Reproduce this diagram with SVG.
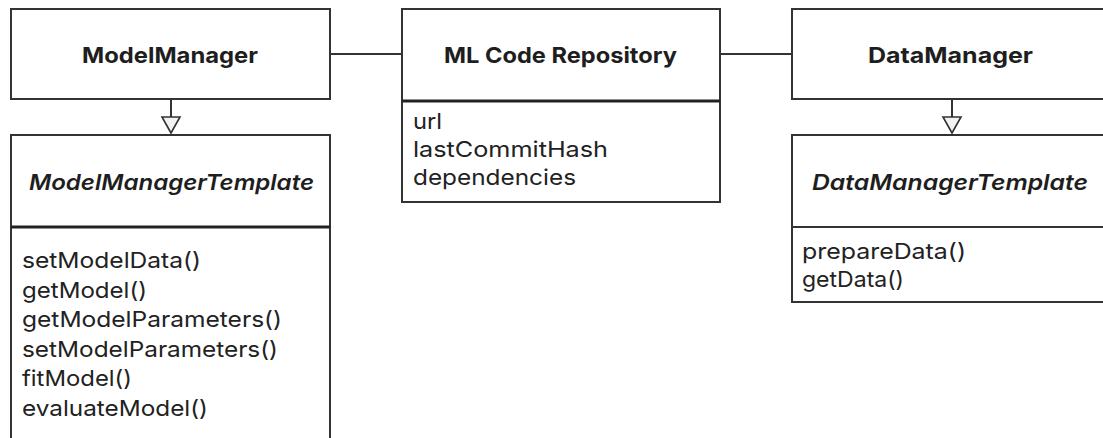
<svg xmlns="http://www.w3.org/2000/svg" width="1103" height="438" viewBox="0 0 1103 438">
<defs>
<style>
.box{fill:#ffffff;stroke:#333333;stroke-width:2}
.sep{stroke:#222222;stroke-width:3}
.septhin{stroke:#333333;stroke-width:2}
.conn{stroke:#333333;stroke-width:2;fill:none}
.tri{fill:#f2f2f2;stroke:#333333;stroke-width:1.6}
.title{font-family:Inter,"Liberation Sans",sans-serif;font-size:22px;font-weight:700;fill:#1e1e1e}
.ital{font-family:Inter,"Liberation Sans",sans-serif;font-size:22px;font-weight:600;font-style:italic;fill:#1e1e1e}
.item{font-family:Inter,"Liberation Sans",sans-serif;font-size:22px;font-weight:400;fill:#222222}
</style>
</defs>
<rect width="1103" height="438" fill="#ffffff"/>
<g id="connectors">
<line class="conn" x1="330" y1="54" x2="402" y2="54"/>
<line class="conn" x1="720" y1="54" x2="792" y2="54"/>
<line class="conn" x1="171" y1="99" x2="171" y2="117"/>
<polygon class="tri" points="162,117 180,117 171,133"/>
<line class="conn" x1="952" y1="99" x2="952" y2="117"/>
<polygon class="tri" points="943,117 961,117 952,133"/>
</g>
<g id="ModelManager">
<rect class="box" x="11" y="9" width="319" height="90"/>
<text class="title" x="82" y="63" textLength="176" lengthAdjust="spacingAndGlyphs">ModelManager</text>
</g>
<g id="MLCodeRepository">
<rect class="box" x="402" y="9" width="318" height="193"/>
<line class="sep" x1="402" y1="101" x2="720" y2="101"/>
<text class="title" x="444" y="63" textLength="233" lengthAdjust="spacingAndGlyphs">ML Code Repository</text>
<text class="item" x="413" y="129" textLength="29" lengthAdjust="spacingAndGlyphs">url</text>
<text class="item" x="413" y="157" textLength="195" lengthAdjust="spacingAndGlyphs">lastCommitHash</text>
<text class="item" x="413" y="185" textLength="163" lengthAdjust="spacingAndGlyphs">dependencies</text>
</g>
<g id="DataManager">
<rect class="box" x="792" y="9" width="319" height="90"/>
<text class="title" x="868" y="63" textLength="165" lengthAdjust="spacingAndGlyphs">DataManager</text>
</g>
<g id="ModelManagerTemplate">
<rect class="box" x="11" y="135" width="319" height="320"/>
<line class="sep" x1="11" y1="227" x2="330" y2="227"/>
<text class="ital" x="29" y="190" textLength="285" lengthAdjust="spacingAndGlyphs">ModelManagerTemplate</text>
<text class="item" x="22" y="268" textLength="179" lengthAdjust="spacingAndGlyphs">setModelData()</text>
<text class="item" x="22" y="297.5" textLength="125" lengthAdjust="spacingAndGlyphs">getModel()</text>
<text class="item" x="22" y="327" textLength="260" lengthAdjust="spacingAndGlyphs">getModelParameters()</text>
<text class="item" x="22" y="356.5" textLength="256" lengthAdjust="spacingAndGlyphs">setModelParameters()</text>
<text class="item" x="22" y="386" textLength="110" lengthAdjust="spacingAndGlyphs">fitModel()</text>
<text class="item" x="22" y="415.5" textLength="186" lengthAdjust="spacingAndGlyphs">evaluateModel()</text>
</g>
<g id="DataManagerTemplate">
<rect class="box" x="792" y="135" width="319" height="167"/>
<line class="septhin" x1="792" y1="227" x2="1111" y2="227"/>
<text class="ital" x="812" y="190" textLength="276" lengthAdjust="spacingAndGlyphs">DataManagerTemplate</text>
<text class="item" x="802" y="259" textLength="164" lengthAdjust="spacingAndGlyphs">prepareData()</text>
<text class="item" x="802" y="287" textLength="102" lengthAdjust="spacingAndGlyphs">getData()</text>
</g>
</svg>
